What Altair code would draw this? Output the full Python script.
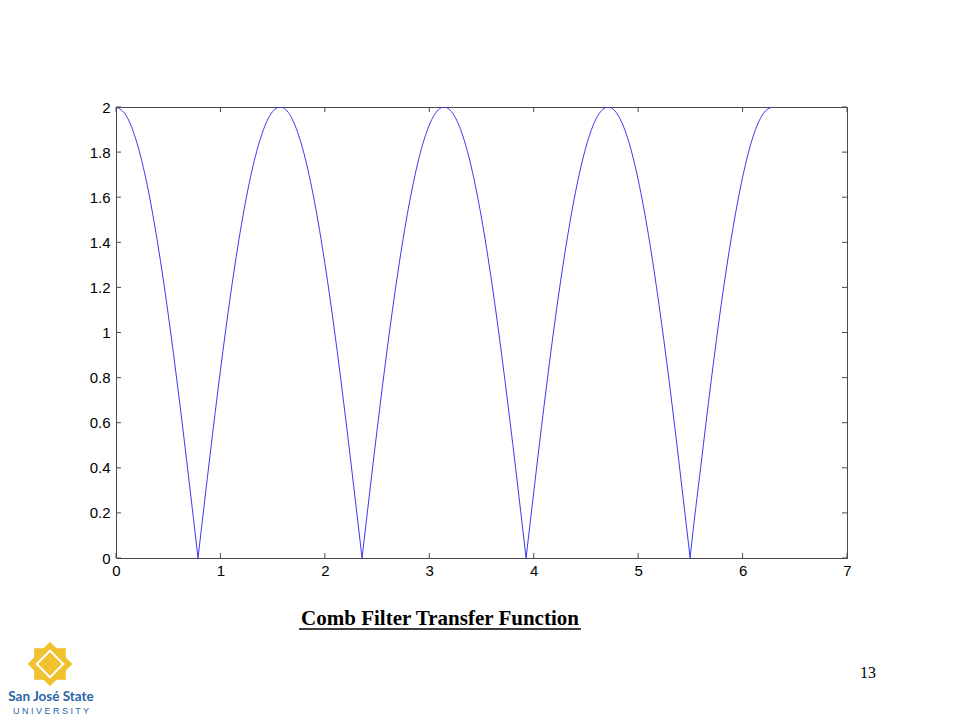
import altair as alt
import pandas as pd

# Curve values (|H| of the comb filter), split into lobes between nulls
omega = [0.0, 0.1, 0.2, 0.3, 0.4, 0.5, 0.6, 0.7, 0.7854,
         0.7854, 0.8, 0.9, 1.0, 1.1, 1.2, 1.3, 1.4, 1.5,
         1.5708, 1.6, 1.7, 1.8, 1.9, 2.0, 2.1, 2.2, 2.3, 2.3562,
         2.3562, 2.4, 2.5, 2.6, 2.7, 2.8, 2.9,
         3.0, 3.1, 3.1416, 3.2, 3.3, 3.4, 3.5, 3.6, 3.7, 3.8, 3.9, 3.927,
         3.927, 4.0, 4.1, 4.2, 4.3,
         4.4, 4.5, 4.6, 4.7, 4.7124, 4.8, 4.9, 5.0, 5.1, 5.2, 5.3, 5.4, 5.4978,
         5.4978, 5.5, 5.6, 5.7,
         5.8, 5.9, 6.0, 6.1, 6.2, 6.2832]
magnitude = [2.000, 1.960, 1.842, 1.651, 1.393, 1.081, 0.725, 0.340, 0.0,
             0.0, 0.058, 0.454, 0.832, 1.177, 1.475, 1.714, 1.884, 1.980,
             2.000, 1.997, 1.934, 1.794, 1.582, 1.307, 0.981, 0.615, 0.224, 0.0,
             0.0, 0.175, 0.567, 0.937, 1.269, 1.551, 1.771,
             1.920, 1.993, 2.000, 1.986, 1.900, 1.739, 1.508, 1.217, 0.877, 0.503, 0.108, 0.0,
             0.0, 0.291, 0.678, 1.039, 1.357,
             1.622, 1.822, 1.950, 1.999, 2.000, 1.969, 1.861, 1.678, 1.429, 1.123, 0.773, 0.389, 0.0,
             0.0, 0.010, 0.406, 0.788,
             1.139, 1.441, 1.688, 1.868, 1.972, 2.000]
lobe = ([0] * 9 + [1] * 19 + [2] * 19 + [3] * 18 + [4] * 10)

x_ticks = [0, 1, 2, 3, 4, 5, 6, 7]
y_ticks = [0, 0.2, 0.4, 0.6, 0.8, 1.0, 1.2, 1.4, 1.6, 1.8, 2.0]

caption = "Comb Filter Transfer Function"
page_number = "13"

W, H = 731, 451
AX = "#4a4a4a"
FONT = "Liberation Sans"

curve_df = pd.DataFrame({"w": omega, "m": magnitude, "lobe": lobe})
xt_df = pd.DataFrame({"t": x_ticks})
yt_df = pd.DataFrame({"t": y_ticks})

xs = alt.Scale(domain=[0, 7], nice=False, zero=False)
ys = alt.Scale(domain=[0, 2], nice=False, zero=False)

curve = alt.Chart(curve_df).mark_line(color="#3a3af0", strokeWidth=1, clip=True,
                                      interpolate="monotone").encode(
    x=alt.X("w:Q", scale=xs,
            axis=alt.Axis(values=x_ticks, title=None, grid=False, tickSize=0, labelPadding=5,
                          labelFont=FONT, labelFontSize=15, labelColor="black",
                          domainColor=AX, labelFlush=False, format="d")),
    y=alt.Y("m:Q", scale=ys,
            axis=alt.Axis(values=y_ticks, title=None, grid=False, tickSize=0, labelPadding=6,
                          labelFont=FONT, labelFontSize=15, labelColor="black",
                          domainColor=AX, labelFlush=False, format="~g")),
    detail="lobe:N",
    order="w:Q",
)

tick_len = 5
bx = alt.Chart(xt_df).mark_rule(color=AX, strokeWidth=1).encode(
    x=alt.X("t:Q", scale=xs), y=alt.value(H), y2=alt.value(H - tick_len))
tx = alt.Chart(xt_df).mark_rule(color=AX, strokeWidth=1).encode(
    x=alt.X("t:Q", scale=xs), y=alt.value(0), y2=alt.value(tick_len))
ly = alt.Chart(yt_df).mark_rule(color=AX, strokeWidth=1).encode(
    y=alt.Y("t:Q", scale=ys), x=alt.value(0), x2=alt.value(tick_len))
ry = alt.Chart(yt_df).mark_rule(color=AX, strokeWidth=1).encode(
    y=alt.Y("t:Q", scale=ys), x=alt.value(W), x2=alt.value(W - tick_len))

title_txt = alt.Chart(pd.DataFrame({"s": [caption]})).mark_text(
    font="Liberation Serif", fontSize=21, fontWeight="bold", color="black",
    align="center", baseline="alphabetic").encode(
    text="s:N", x=alt.value(324), y=alt.value(518))
underline = alt.Chart(pd.DataFrame({"s": [caption]})).mark_rule(color="black", strokeWidth=1.5).encode(
    x=alt.value(183), x2=alt.value(465), y=alt.value(522))

page_txt = alt.Chart(pd.DataFrame({"s": [page_number]})).mark_text(
    font="Liberation Serif", fontSize=16, color="black", align="center", baseline="middle").encode(
    text="s:N", x=alt.value(752), y=alt.value(566))

logo_df = pd.DataFrame({"k": ["a"]})
logo_diamond = alt.Chart(logo_df).mark_point(shape="diamond", filled=True, color="#f2c12e",
                                             opacity=1, size=2000).encode(
    x=alt.value(-66), y=alt.value(557))
logo_square = alt.Chart(logo_df).mark_point(shape="square", filled=True, color="#f2c12e",
                                            opacity=1, size=1000).encode(
    x=alt.value(-66), y=alt.value(557))
logo_inner = alt.Chart(logo_df).mark_point(shape="diamond", filled=False, color="white",
                                           strokeWidth=2, opacity=1, size=700).encode(
    x=alt.value(-66), y=alt.value(557))
logo_t1 = alt.Chart(pd.DataFrame({"s": ["San José State"]})).mark_text(
    font="Lato", fontSize=13.5, fontWeight="bold", color="#2a64a8",
    align="center", baseline="middle").encode(text="s:N", x=alt.value(-65), y=alt.value(590))
logo_t2 = alt.Chart(pd.DataFrame({"s": ["U N I V E R S I T Y"]})).mark_text(
    font=FONT, fontSize=9, color="#2a64a8",
    align="center", baseline="middle").encode(text="s:N", x=alt.value(-65), y=alt.value(604))

chart = alt.layer(
    curve, bx, tx, ly, ry, title_txt, underline, page_txt,
    logo_diamond, logo_square, logo_inner, logo_t1, logo_t2
).properties(
    width=W, height=H,
    autosize=alt.AutoSizeParams(type="none"),
    padding={"left": 108, "top": 99, "right": 105, "bottom": 158},
    background="white",
).configure_view(stroke=AX, strokeWidth=1)

chart.save("out.html", embed_options={"renderer": "svg", "actions": False})
